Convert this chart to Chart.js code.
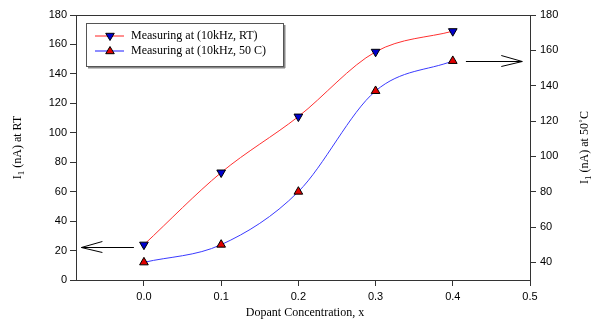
<!DOCTYPE html>
<html lang="en">
<head>
<meta charset="utf-8">
<title>Dopant concentration vs current</title>
<script src="https://cdn.jsdelivr.net/npm/chart.js"></script>
<style>
  html,body{margin:0;padding:0;background:#fff;}
  #wrap{width:591px;height:324px;position:relative;}
</style>
</head>
<body>
<div id="wrap"><canvas id="myChart"></canvas></div>
<script>
/* ── data ───────────────────────────────────────── */
const xVals     = [0.0, 0.1, 0.2, 0.3, 0.4];
const rtVals    = [24, 73, 111, 155, 169];     // left axis, nA at RT
const hotVals   = [40, 50, 80, 137, 154];      // right axis, nA at 50 C
const xTicks    = [0.0, 0.1, 0.2, 0.3, 0.4, 0.5];
const leftTicks = [0, 20, 40, 60, 80, 100, 120, 140, 160, 180];
const rightTicks= [40, 60, 80, 100, 120, 140, 160, 180];
const labelRT   = 'Measuring at (10kHz, RT)';
const labelHot  = 'Measuring at (10kHz, 50 C)';
// arrows pointing to the axis each curve belongs to: [x from, x to, y, axis]
const arrows = [
  [-0.013, -0.081, 22.5, 'y'],
  [0.417, 0.490, 154, 'y1']
];

const SERIF = '"Liberation Serif", "Times New Roman", serif';
const SANS  = '"Liberation Sans", Arial, sans-serif';

/* ── drawing helpers ────────────────────────────── */
function tri(ctx, x, y, r, down, fill){
  ctx.beginPath();
  const s = down ? -1 : 1;
  ctx.moveTo(x, y - s*r);
  ctx.lineTo(x - r*0.95, y + s*r*0.6);
  ctx.lineTo(x + r*0.95, y + s*r*0.6);
  ctx.closePath();
  ctx.fillStyle = fill; ctx.fill();
  ctx.strokeStyle = '#000'; ctx.lineWidth = 1; ctx.stroke();
}

// rotated title "I" + subscript "1" + rest
function vTitle(ctx, x, y, rest){
  ctx.save(); ctx.translate(x, y); ctx.rotate(-Math.PI/2);
  ctx.textBaseline = 'alphabetic'; ctx.textAlign = 'left';
  const big = '12px ' + SERIF, small = '9px ' + SERIF;
  ctx.font = big; const wI = ctx.measureText('I').width, wR = ctx.measureText(rest).width;
  ctx.font = small; const w1 = ctx.measureText('1').width;
  let cx = -(wI + w1 + wR)/2;
  ctx.font = big; ctx.fillText('I', cx, 4); cx += wI;
  ctx.font = small; ctx.fillText('1', cx, 7); cx += w1;
  ctx.font = big; ctx.fillText(rest, cx, 4);
  ctx.restore();
}

const extras = {
  id:'extras',
  afterDraw(chart){
    const {ctx, chartArea:a, scales} = chart;
    ctx.save();
    // top frame line
    ctx.strokeStyle = '#333'; ctx.lineWidth = 1;
    ctx.beginPath(); ctx.moveTo(a.left, a.top + 0.5); ctx.lineTo(a.right, a.top + 0.5); ctx.stroke();

    // arrows
    ctx.strokeStyle = '#000';
    arrows.forEach(([x0, x1, yv, ax])=>{
      const px0 = scales.x.getPixelForValue(x0);
      const px1 = scales.x.getPixelForValue(x1);
      const py  = Math.round(scales[ax].getPixelForValue(yv)) + 0.5;
      const d = Math.sign(px0 - px1);
      ctx.beginPath();
      ctx.moveTo(px0, py); ctx.lineTo(px1, py);
      ctx.moveTo(px1 + d*21, py - 6); ctx.lineTo(px1, py); ctx.lineTo(px1 + d*21, py + 5);
      ctx.stroke();
    });

    // legend box
    const lx = 86, ly = 23, lw = 197, lh = 43;
    ctx.fillStyle = '#fff'; ctx.fillRect(lx, ly, lw, lh);
    ctx.strokeStyle = '#555'; ctx.lineWidth = 1;
    ctx.strokeRect(lx + 0.5, ly + 0.5, lw, lh);
    ctx.fillStyle = '#888'; ctx.fillRect(lx + 2, ly + lh + 1, lw, 1.5); ctx.fillRect(lx + lw + 1, ly + 2, 1.5, lh);
    const rows = [
      {y: 36, col:'#ff2020', lw:1, down:true,  fill:'#0000cc', text:labelRT},
      {y: 51, col:'#8c8cff', lw:2, down:false, fill:'#e00000', text:labelHot}
    ];
    ctx.font = '12px ' + SERIF; ctx.textBaseline = 'middle'; ctx.textAlign = 'left';
    rows.forEach(r=>{
      ctx.strokeStyle = r.col; ctx.lineWidth = r.lw;
      ctx.beginPath(); ctx.moveTo(95, r.y); ctx.lineTo(124, r.y); ctx.stroke();
      tri(ctx, 110, r.y, 4.5, r.down, r.fill);
      ctx.fillStyle = '#000'; ctx.fillText(r.text, 131, r.y);
    });

    // axis titles
    ctx.fillStyle = '#000'; ctx.font = '12px ' + SERIF; ctx.textAlign = 'center';
    ctx.fillText('Dopant Concentration, x', (a.left + a.right)/2 + 2, 313);
    const midY = (a.top + a.bottom)/2;
    vTitle(ctx, 17, midY, ' (nA) at RT');
    vTitle(ctx, 584, midY, ' (nA) at 50\u02DAC');
    ctx.restore();
  }
};

/* ── chart ──────────────────────────────────────── */
const tickFont = {family: SANS, size: 11};
new Chart(document.getElementById('myChart'), {
  type:'line',
  data:{
    datasets:[
      {
        label: labelRT, yAxisID:'y',
        data: xVals.map((x,i)=>({x, y: rtVals[i]})),
        borderColor:'#ff3030', borderWidth:1,
        backgroundColor:'#0000cc', pointBorderColor:'#000', pointBorderWidth:1,
        pointStyle:'triangle', pointRotation:180, pointRadius:5,
        cubicInterpolationMode:'monotone', fill:false
      },
      {
        label: labelHot, yAxisID:'y1',
        data: xVals.map((x,i)=>({x, y: hotVals[i]})),
        borderColor:'#3a3aff', borderWidth:1,
        backgroundColor:'#e00000', pointBorderColor:'#000', pointBorderWidth:1,
        pointStyle:'triangle', pointRadius:5,
        cubicInterpolationMode:'monotone', fill:false
      }
    ]
  },
  options:{
    responsive:true, maintainAspectRatio:false, animation:false,
    layout:{padding:{top:15, left:0, right:0, bottom:0}},
    plugins:{legend:{display:false}, tooltip:{enabled:false}},
    scales:{
      x:{
        type:'linear', min:-0.088, max:0.5,
        afterBuildTicks: s => { s.ticks = xTicks.map(v=>({value:v})); },
        afterFit: s => { s.height = 44; },
        ticks:{font:tickFont, color:'#000', padding:4, callback:v=>v.toFixed(1)},
        grid:{drawOnChartArea:false, drawTicks:true, tickLength:6, color:'#333'},
        border:{color:'#333'}
      },
      y:{
        position:'left', min:0, max:180,
        afterBuildTicks: s => { s.ticks = leftTicks.map(v=>({value:v})); },
        afterFit: s => { s.width = 76; },
        ticks:{font:tickFont, color:'#000', padding:3},
        grid:{drawOnChartArea:false, drawTicks:true, tickLength:6, color:'#333'},
        border:{color:'#333'}
      },
      y1:{
        position:'right', min:30, max:180,
        afterBuildTicks: s => { s.ticks = rightTicks.map(v=>({value:v})); },
        afterFit: s => { s.width = 61; },
        ticks:{font:tickFont, color:'#000', padding:4},
        grid:{drawOnChartArea:false, drawTicks:true, tickLength:6, color:'#333'},
        border:{color:'#333'}
      }
    }
  },
  plugins:[extras]
});
</script>
</body>
</html>
